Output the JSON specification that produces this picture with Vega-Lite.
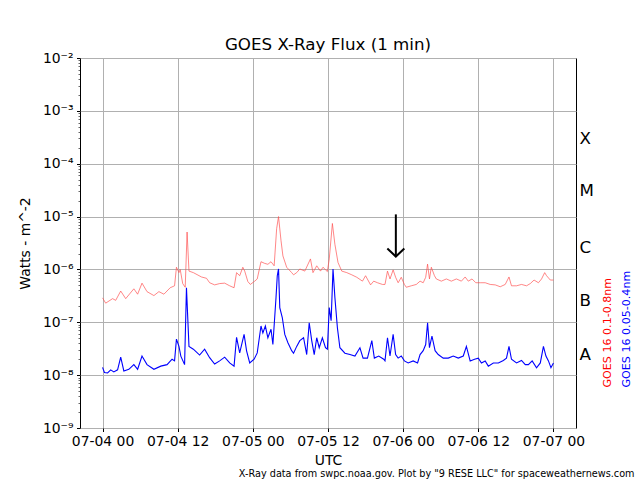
{
  "$schema": "https://vega.github.io/schema/vega-lite/v6.json",
  "autosize": {"type": "none"},
  "padding": {"left": 80, "top": 58, "right": 64, "bottom": 52},
  "width": 496,
  "height": 370,
  "background": "white",
  "config": {
    "font": "DejaVu Sans",
    "view": {"stroke": "black", "strokeWidth": 1},
    "axis": {"labelFont": "DejaVu Sans", "titleFont": "DejaVu Sans", "labelOverlap": false, "labelFlush": false}
  },
  "title": {
    "text": "GOES X-Ray Flux (1 min)",
    "fontSize": 16.7,
    "fontWeight": "normal",
    "color": "black",
    "anchor": "middle",
    "baseline": "alphabetic",
    "offset": 9,
    "dy": 25
  },
  "datasets": {
    "long": [
      {"t": "2024-07-04T00:00:00Z", "v": 2.9e-7},
      {"t": "2024-07-04T00:30:00Z", "v": 2.3e-7},
      {"t": "2024-07-04T01:36:00Z", "v": 2.8e-7},
      {"t": "2024-07-04T02:06:00Z", "v": 2.6e-7},
      {"t": "2024-07-04T02:54:00Z", "v": 3.9e-7},
      {"t": "2024-07-04T03:42:00Z", "v": 2.8e-7},
      {"t": "2024-07-04T05:00:00Z", "v": 4.3e-7},
      {"t": "2024-07-04T05:36:00Z", "v": 3.4e-7},
      {"t": "2024-07-04T06:18:00Z", "v": 5.5e-7},
      {"t": "2024-07-04T07:06:00Z", "v": 3.8e-7},
      {"t": "2024-07-04T08:12:00Z", "v": 3.2e-7},
      {"t": "2024-07-04T09:00:00Z", "v": 3.8e-7},
      {"t": "2024-07-04T09:48:00Z", "v": 3.4e-7},
      {"t": "2024-07-04T10:48:00Z", "v": 4.5e-7},
      {"t": "2024-07-04T11:30:00Z", "v": 4.9e-7},
      {"t": "2024-07-04T11:48:00Z", "v": 1.1e-6},
      {"t": "2024-07-04T12:12:00Z", "v": 8.7e-7},
      {"t": "2024-07-04T12:24:00Z", "v": 1.0e-6},
      {"t": "2024-07-04T12:48:00Z", "v": 5.4e-7},
      {"t": "2024-07-04T13:12:00Z", "v": 4.6e-7},
      {"t": "2024-07-04T13:30:00Z", "v": 5.1e-6},
      {"t": "2024-07-04T13:48:00Z", "v": 9.3e-7},
      {"t": "2024-07-04T14:30:00Z", "v": 8.7e-7},
      {"t": "2024-07-04T15:48:00Z", "v": 7.2e-7},
      {"t": "2024-07-04T16:36:00Z", "v": 6.8e-7},
      {"t": "2024-07-04T17:06:00Z", "v": 5.6e-7},
      {"t": "2024-07-04T17:54:00Z", "v": 5.1e-7},
      {"t": "2024-07-04T18:42:00Z", "v": 5.4e-7},
      {"t": "2024-07-04T19:30:00Z", "v": 5.5e-7},
      {"t": "2024-07-04T20:18:00Z", "v": 4.9e-7},
      {"t": "2024-07-04T21:00:00Z", "v": 4.5e-7},
      {"t": "2024-07-04T21:24:00Z", "v": 8.7e-7},
      {"t": "2024-07-04T21:54:00Z", "v": 7.6e-7},
      {"t": "2024-07-04T22:24:00Z", "v": 1.1e-6},
      {"t": "2024-07-04T22:42:00Z", "v": 9.3e-7},
      {"t": "2024-07-04T23:12:00Z", "v": 5.9e-7},
      {"t": "2024-07-04T23:36:00Z", "v": 5.2e-7},
      {"t": "2024-07-05T00:18:00Z", "v": 6.0e-7},
      {"t": "2024-07-05T00:42:00Z", "v": 6.6e-7},
      {"t": "2024-07-05T01:18:00Z", "v": 1.4e-6},
      {"t": "2024-07-05T01:54:00Z", "v": 1.3e-6},
      {"t": "2024-07-05T02:24:00Z", "v": 1.25e-6},
      {"t": "2024-07-05T02:54:00Z", "v": 1.4e-6},
      {"t": "2024-07-05T03:24:00Z", "v": 1.17e-6},
      {"t": "2024-07-05T03:48:00Z", "v": 5.9e-6},
      {"t": "2024-07-05T04:06:00Z", "v": 1.0e-5},
      {"t": "2024-07-05T04:30:00Z", "v": 3.5e-6},
      {"t": "2024-07-05T04:48:00Z", "v": 1.8e-6},
      {"t": "2024-07-05T05:24:00Z", "v": 1.1e-6},
      {"t": "2024-07-05T06:12:00Z", "v": 8.7e-7},
      {"t": "2024-07-05T06:30:00Z", "v": 7.9e-7},
      {"t": "2024-07-05T07:00:00Z", "v": 8.7e-7},
      {"t": "2024-07-05T07:30:00Z", "v": 1.02e-6},
      {"t": "2024-07-05T08:18:00Z", "v": 9.3e-7},
      {"t": "2024-07-05T09:12:00Z", "v": 1.58e-6},
      {"t": "2024-07-05T09:36:00Z", "v": 8.7e-7},
      {"t": "2024-07-05T10:12:00Z", "v": 1.17e-6},
      {"t": "2024-07-05T10:48:00Z", "v": 9.3e-7},
      {"t": "2024-07-05T11:12:00Z", "v": 1.1e-6},
      {"t": "2024-07-05T11:54:00Z", "v": 9.1e-7},
      {"t": "2024-07-05T12:12:00Z", "v": 1.58e-6},
      {"t": "2024-07-05T12:42:00Z", "v": 7.4e-6},
      {"t": "2024-07-05T13:06:00Z", "v": 3.0e-6},
      {"t": "2024-07-05T13:36:00Z", "v": 1.35e-6},
      {"t": "2024-07-05T14:12:00Z", "v": 9.3e-7},
      {"t": "2024-07-05T15:00:00Z", "v": 8.7e-7},
      {"t": "2024-07-05T15:48:00Z", "v": 7.9e-7},
      {"t": "2024-07-05T16:36:00Z", "v": 7.1e-7},
      {"t": "2024-07-05T17:30:00Z", "v": 6.0e-7},
      {"t": "2024-07-05T18:00:00Z", "v": 7.6e-7},
      {"t": "2024-07-05T18:48:00Z", "v": 5.1e-7},
      {"t": "2024-07-05T19:18:00Z", "v": 6.0e-7},
      {"t": "2024-07-05T19:54:00Z", "v": 5.6e-7},
      {"t": "2024-07-05T20:42:00Z", "v": 5.2e-7},
      {"t": "2024-07-05T21:06:00Z", "v": 5.2e-7},
      {"t": "2024-07-05T21:30:00Z", "v": 9.3e-7},
      {"t": "2024-07-05T21:54:00Z", "v": 6.6e-7},
      {"t": "2024-07-05T22:24:00Z", "v": 9.8e-7},
      {"t": "2024-07-05T22:48:00Z", "v": 7.1e-7},
      {"t": "2024-07-05T23:12:00Z", "v": 5.6e-7},
      {"t": "2024-07-05T23:42:00Z", "v": 7.1e-7},
      {"t": "2024-07-06T00:12:00Z", "v": 5.2e-7},
      {"t": "2024-07-06T00:30:00Z", "v": 4.6e-7},
      {"t": "2024-07-06T01:18:00Z", "v": 4.9e-7},
      {"t": "2024-07-06T02:06:00Z", "v": 5.2e-7},
      {"t": "2024-07-06T02:42:00Z", "v": 6.0e-7},
      {"t": "2024-07-06T03:12:00Z", "v": 5.6e-7},
      {"t": "2024-07-06T03:36:00Z", "v": 7.1e-7},
      {"t": "2024-07-06T03:54:00Z", "v": 1.26e-6},
      {"t": "2024-07-06T04:12:00Z", "v": 6.6e-7},
      {"t": "2024-07-06T04:30:00Z", "v": 1.1e-6},
      {"t": "2024-07-06T05:00:00Z", "v": 7.6e-7},
      {"t": "2024-07-06T05:18:00Z", "v": 6.6e-7},
      {"t": "2024-07-06T06:06:00Z", "v": 6.0e-7},
      {"t": "2024-07-06T06:54:00Z", "v": 6.6e-7},
      {"t": "2024-07-06T07:42:00Z", "v": 6.0e-7},
      {"t": "2024-07-06T08:30:00Z", "v": 6.6e-7},
      {"t": "2024-07-06T09:18:00Z", "v": 6.0e-7},
      {"t": "2024-07-06T09:54:00Z", "v": 7.2e-7},
      {"t": "2024-07-06T10:24:00Z", "v": 6.0e-7},
      {"t": "2024-07-06T11:00:00Z", "v": 6.6e-7},
      {"t": "2024-07-06T11:36:00Z", "v": 5.6e-7},
      {"t": "2024-07-06T12:18:00Z", "v": 5.6e-7},
      {"t": "2024-07-06T13:06:00Z", "v": 5.6e-7},
      {"t": "2024-07-06T13:54:00Z", "v": 5.2e-7},
      {"t": "2024-07-06T14:42:00Z", "v": 5.1e-7},
      {"t": "2024-07-06T15:30:00Z", "v": 4.7e-7},
      {"t": "2024-07-06T16:18:00Z", "v": 5.2e-7},
      {"t": "2024-07-06T16:54:00Z", "v": 7.2e-7},
      {"t": "2024-07-06T17:18:00Z", "v": 4.9e-7},
      {"t": "2024-07-06T18:06:00Z", "v": 4.9e-7},
      {"t": "2024-07-06T18:54:00Z", "v": 5.2e-7},
      {"t": "2024-07-06T19:42:00Z", "v": 4.9e-7},
      {"t": "2024-07-06T20:18:00Z", "v": 5.4e-7},
      {"t": "2024-07-06T20:54:00Z", "v": 6.3e-7},
      {"t": "2024-07-06T21:36:00Z", "v": 5.6e-7},
      {"t": "2024-07-06T22:06:00Z", "v": 6.6e-7},
      {"t": "2024-07-06T22:36:00Z", "v": 8.7e-7},
      {"t": "2024-07-06T22:54:00Z", "v": 7.6e-7},
      {"t": "2024-07-06T23:30:00Z", "v": 6.3e-7},
      {"t": "2024-07-07T00:00:00Z", "v": 6.3e-7}
    ],
    "short": [
      {"t": "2024-07-04T00:00:00Z", "v": 1.4e-8},
      {"t": "2024-07-04T00:18:00Z", "v": 1.12e-8},
      {"t": "2024-07-04T00:48:00Z", "v": 1.1e-8},
      {"t": "2024-07-04T01:18:00Z", "v": 1.26e-8},
      {"t": "2024-07-04T01:48:00Z", "v": 1.15e-8},
      {"t": "2024-07-04T02:24:00Z", "v": 1.26e-8},
      {"t": "2024-07-04T02:54:00Z", "v": 2.2e-8},
      {"t": "2024-07-04T03:24:00Z", "v": 1.2e-8},
      {"t": "2024-07-04T04:12:00Z", "v": 1.29e-8},
      {"t": "2024-07-04T05:00:00Z", "v": 1.58e-8},
      {"t": "2024-07-04T05:36:00Z", "v": 1.29e-8},
      {"t": "2024-07-04T06:18:00Z", "v": 2.3e-8},
      {"t": "2024-07-04T07:06:00Z", "v": 1.58e-8},
      {"t": "2024-07-04T08:12:00Z", "v": 1.29e-8},
      {"t": "2024-07-04T09:18:00Z", "v": 1.48e-8},
      {"t": "2024-07-04T10:18:00Z", "v": 1.58e-8},
      {"t": "2024-07-04T11:06:00Z", "v": 2.0e-8},
      {"t": "2024-07-04T11:30:00Z", "v": 1.86e-8},
      {"t": "2024-07-04T11:48:00Z", "v": 4.8e-8},
      {"t": "2024-07-04T12:12:00Z", "v": 3.5e-8},
      {"t": "2024-07-04T12:30:00Z", "v": 2.29e-8},
      {"t": "2024-07-04T13:06:00Z", "v": 1.58e-8},
      {"t": "2024-07-04T13:24:00Z", "v": 4.5e-7},
      {"t": "2024-07-04T13:48:00Z", "v": 3.5e-8},
      {"t": "2024-07-04T14:30:00Z", "v": 3.1e-8},
      {"t": "2024-07-04T15:30:00Z", "v": 2.4e-8},
      {"t": "2024-07-04T16:18:00Z", "v": 3.1e-8},
      {"t": "2024-07-04T17:06:00Z", "v": 2.14e-8},
      {"t": "2024-07-04T17:54:00Z", "v": 1.62e-8},
      {"t": "2024-07-04T18:42:00Z", "v": 1.86e-8},
      {"t": "2024-07-04T19:30:00Z", "v": 2.19e-8},
      {"t": "2024-07-04T20:18:00Z", "v": 1.7e-8},
      {"t": "2024-07-04T21:00:00Z", "v": 1.48e-8},
      {"t": "2024-07-04T21:24:00Z", "v": 5.2e-8},
      {"t": "2024-07-04T21:54:00Z", "v": 2.63e-8},
      {"t": "2024-07-04T22:36:00Z", "v": 5.9e-8},
      {"t": "2024-07-04T23:00:00Z", "v": 2.88e-8},
      {"t": "2024-07-04T23:30:00Z", "v": 1.7e-8},
      {"t": "2024-07-05T00:12:00Z", "v": 2.0e-8},
      {"t": "2024-07-05T00:42:00Z", "v": 2.63e-8},
      {"t": "2024-07-05T01:18:00Z", "v": 8.5e-8},
      {"t": "2024-07-05T01:36:00Z", "v": 6.3e-8},
      {"t": "2024-07-05T02:00:00Z", "v": 8.5e-8},
      {"t": "2024-07-05T02:24:00Z", "v": 5.1e-8},
      {"t": "2024-07-05T02:54:00Z", "v": 7.4e-8},
      {"t": "2024-07-05T03:12:00Z", "v": 3.8e-8},
      {"t": "2024-07-05T03:42:00Z", "v": 2.95e-7},
      {"t": "2024-07-05T03:54:00Z", "v": 7.6e-7},
      {"t": "2024-07-05T04:06:00Z", "v": 1.02e-6},
      {"t": "2024-07-05T04:18:00Z", "v": 1.9e-7},
      {"t": "2024-07-05T04:42:00Z", "v": 1.23e-7},
      {"t": "2024-07-05T05:06:00Z", "v": 5.9e-8},
      {"t": "2024-07-05T05:36:00Z", "v": 4.1e-8},
      {"t": "2024-07-05T06:12:00Z", "v": 2.9e-8},
      {"t": "2024-07-05T06:30:00Z", "v": 2.6e-8},
      {"t": "2024-07-05T07:00:00Z", "v": 3.5e-8},
      {"t": "2024-07-05T07:30:00Z", "v": 4.5e-8},
      {"t": "2024-07-05T08:06:00Z", "v": 5.1e-8},
      {"t": "2024-07-05T08:36:00Z", "v": 2.45e-8},
      {"t": "2024-07-05T09:00:00Z", "v": 9.8e-8},
      {"t": "2024-07-05T09:24:00Z", "v": 4.5e-8},
      {"t": "2024-07-05T09:48:00Z", "v": 2.45e-8},
      {"t": "2024-07-05T10:12:00Z", "v": 5.1e-8},
      {"t": "2024-07-05T10:36:00Z", "v": 3.3e-8},
      {"t": "2024-07-05T11:06:00Z", "v": 5.1e-8},
      {"t": "2024-07-05T11:36:00Z", "v": 3.3e-8},
      {"t": "2024-07-05T11:54:00Z", "v": 3.1e-8},
      {"t": "2024-07-05T12:12:00Z", "v": 1.9e-7},
      {"t": "2024-07-05T12:30:00Z", "v": 1.07e-7},
      {"t": "2024-07-05T12:48:00Z", "v": 1.02e-6},
      {"t": "2024-07-05T13:06:00Z", "v": 2.95e-7},
      {"t": "2024-07-05T13:30:00Z", "v": 7.9e-8},
      {"t": "2024-07-05T13:54:00Z", "v": 3.3e-8},
      {"t": "2024-07-05T14:42:00Z", "v": 2.6e-8},
      {"t": "2024-07-05T15:30:00Z", "v": 2.45e-8},
      {"t": "2024-07-05T16:18:00Z", "v": 2.3e-8},
      {"t": "2024-07-05T17:06:00Z", "v": 3.3e-8},
      {"t": "2024-07-05T17:36:00Z", "v": 2.1e-8},
      {"t": "2024-07-05T18:18:00Z", "v": 2.1e-8},
      {"t": "2024-07-05T19:00:00Z", "v": 4.5e-8},
      {"t": "2024-07-05T19:24:00Z", "v": 2.1e-8},
      {"t": "2024-07-05T20:06:00Z", "v": 2.3e-8},
      {"t": "2024-07-05T20:54:00Z", "v": 2.0e-8},
      {"t": "2024-07-05T21:06:00Z", "v": 1.86e-8},
      {"t": "2024-07-05T21:30:00Z", "v": 5.1e-8},
      {"t": "2024-07-05T21:54:00Z", "v": 2.3e-8},
      {"t": "2024-07-05T22:24:00Z", "v": 5.9e-8},
      {"t": "2024-07-05T22:48:00Z", "v": 2.45e-8},
      {"t": "2024-07-05T23:12:00Z", "v": 2.1e-8},
      {"t": "2024-07-05T23:42:00Z", "v": 2.3e-8},
      {"t": "2024-07-06T00:12:00Z", "v": 1.86e-8},
      {"t": "2024-07-06T00:48:00Z", "v": 1.7e-8},
      {"t": "2024-07-06T01:36:00Z", "v": 1.86e-8},
      {"t": "2024-07-06T02:18:00Z", "v": 1.7e-8},
      {"t": "2024-07-06T02:42:00Z", "v": 2.45e-8},
      {"t": "2024-07-06T03:12:00Z", "v": 2.9e-8},
      {"t": "2024-07-06T03:36:00Z", "v": 3.8e-8},
      {"t": "2024-07-06T03:54:00Z", "v": 9.8e-8},
      {"t": "2024-07-06T04:12:00Z", "v": 3.3e-8},
      {"t": "2024-07-06T04:36:00Z", "v": 5.5e-8},
      {"t": "2024-07-06T05:06:00Z", "v": 2.9e-8},
      {"t": "2024-07-06T05:36:00Z", "v": 2.45e-8},
      {"t": "2024-07-06T06:24:00Z", "v": 2.1e-8},
      {"t": "2024-07-06T07:12:00Z", "v": 2.1e-8},
      {"t": "2024-07-06T08:00:00Z", "v": 2.3e-8},
      {"t": "2024-07-06T08:48:00Z", "v": 2.1e-8},
      {"t": "2024-07-06T09:36:00Z", "v": 2.3e-8},
      {"t": "2024-07-06T10:06:00Z", "v": 3.5e-8},
      {"t": "2024-07-06T10:42:00Z", "v": 1.86e-8},
      {"t": "2024-07-06T11:24:00Z", "v": 2.0e-8},
      {"t": "2024-07-06T12:00:00Z", "v": 2.1e-8},
      {"t": "2024-07-06T12:30:00Z", "v": 1.7e-8},
      {"t": "2024-07-06T13:06:00Z", "v": 1.86e-8},
      {"t": "2024-07-06T13:36:00Z", "v": 1.48e-8},
      {"t": "2024-07-06T14:24:00Z", "v": 1.7e-8},
      {"t": "2024-07-06T15:12:00Z", "v": 1.7e-8},
      {"t": "2024-07-06T16:00:00Z", "v": 1.9e-8},
      {"t": "2024-07-06T16:30:00Z", "v": 2.1e-8},
      {"t": "2024-07-06T16:54:00Z", "v": 3.5e-8},
      {"t": "2024-07-06T17:18:00Z", "v": 2.0e-8},
      {"t": "2024-07-06T18:06:00Z", "v": 1.7e-8},
      {"t": "2024-07-06T18:54:00Z", "v": 1.9e-8},
      {"t": "2024-07-06T19:30:00Z", "v": 1.58e-8},
      {"t": "2024-07-06T20:00:00Z", "v": 1.58e-8},
      {"t": "2024-07-06T20:36:00Z", "v": 1.86e-8},
      {"t": "2024-07-06T21:18:00Z", "v": 1.38e-8},
      {"t": "2024-07-06T21:54:00Z", "v": 1.7e-8},
      {"t": "2024-07-06T22:24:00Z", "v": 3.5e-8},
      {"t": "2024-07-06T22:48:00Z", "v": 2.3e-8},
      {"t": "2024-07-06T23:12:00Z", "v": 1.86e-8},
      {"t": "2024-07-06T23:36:00Z", "v": 1.38e-8},
      {"t": "2024-07-07T00:00:00Z", "v": 1.7e-8}
    ],
    "arrow": [
      {"t": "2024-07-05T22:50:00Z", "top": 1.1e-5, "tip": 1.75e-6}
    ]
  },
  "layer": [
    {
      "data": {"name": "long"},
      "mark": {"type": "line", "color": "#ff4d4d", "strokeWidth": 0.8, "opacity": 0.85},
      "encoding": {
        "x": {
          "field": "t",
          "type": "temporal",
          "scale": {
            "type": "utc",
            "domain": [
              {"year": 2024, "month": 7, "date": 3, "hours": 20, "minutes": 24, "utc": true},
              {"year": 2024, "month": 7, "date": 7, "hours": 3, "minutes": 36, "utc": true}
            ]
          },
          "axis": {
            "orient": "bottom",
            "values": [
              {"year": 2024, "month": 7, "date": 4, "hours": 0, "utc": true},
              {"year": 2024, "month": 7, "date": 4, "hours": 12, "utc": true},
              {"year": 2024, "month": 7, "date": 5, "hours": 0, "utc": true},
              {"year": 2024, "month": 7, "date": 5, "hours": 12, "utc": true},
              {"year": 2024, "month": 7, "date": 6, "hours": 0, "utc": true},
              {"year": 2024, "month": 7, "date": 6, "hours": 12, "utc": true},
              {"year": 2024, "month": 7, "date": 7, "hours": 0, "utc": true}
            ],
            "labelExpr": "utcFormat(datum.value, '%m-%d %H')",
            "title": "UTC",
            "grid": true,
            "gridColor": "#b0b0b0",
            "gridWidth": 1,
            "domain": false,
            "tickColor": "black",
            "tickSize": 3.5,
            "tickWidth": 1,
            "labelFontSize": 13.9,
            "labelColor": "black",
            "labelPadding": 3,
            "titleFontSize": 13.9,
            "titleFontWeight": "normal",
            "titleColor": "black",
            "titleY": 36,
            "titleBaseline": "alphabetic"
          }
        },
        "y": {
          "field": "v",
          "type": "quantitative",
          "scale": {"type": "log", "domain": [1e-9, 1e-2], "nice": false},
          "axis": {
            "orient": "left",
            "values": [1e-9, 1e-8, 1e-7, 1e-6, 1e-5, 1e-4, 1e-3, 1e-2],
            "labelExpr": "'10⁻' + ['⁰','¹','²','³','⁴','⁵','⁶','⁷','⁸','⁹'][round(-log(datum.value)/LN10)]",
            "title": "Watts - m^-2",
            "grid": true,
            "gridColor": "#b0b0b0",
            "gridWidth": 1,
            "domain": false,
            "tickColor": "black",
            "tickSize": 3.5,
            "tickWidth": 1,
            "labelFontSize": 13.9,
            "labelColor": "black",
            "labelPadding": 3.5,
            "titleFontSize": 13.9,
            "titleFontWeight": "normal",
            "titleColor": "black",
            "titleAngle": 270,
            "titleX": -51,
            "titleY": 185,
            "titleAlign": "center",
            "titleBaseline": "alphabetic"
          }
        }
      }
    },
    {
      "data": {"name": "short"},
      "mark": {"type": "line", "color": "#0000ff", "strokeWidth": 1.1},
      "encoding": {
        "x": {
          "field": "t",
          "type": "temporal",
          "axis": {
            "orient": "bottom",
            "labels": false,
            "ticks": false,
            "domain": false,
            "grid": false,
            "title": "X-Ray data from swpc.noaa.gov. Plot by \"9 RESE LLC\" for spaceweathernews.com",
            "titleFontSize": 9.7,
            "titleFontWeight": "normal",
            "titleColor": "black",
            "titleX": 554,
            "titleY": 48,
            "titleAlign": "right",
            "titleAnchor": "end",
            "titleBaseline": "alphabetic"
          }
        },
        "y": {
          "field": "v",
          "type": "quantitative",
          "axis": {
            "orient": "left",
            "values": [2e-9, 3e-9, 4e-9, 5e-9, 6e-9, 7e-9, 8e-9, 9e-9,
                       2e-8, 3e-8, 4e-8, 5e-8, 6e-8, 7e-8, 8e-8, 9e-8,
                       2e-7, 3e-7, 4e-7, 5e-7, 6e-7, 7e-7, 8e-7, 9e-7,
                       2e-6, 3e-6, 4e-6, 5e-6, 6e-6, 7e-6, 8e-6, 9e-6,
                       2e-5, 3e-5, 4e-5, 5e-5, 6e-5, 7e-5, 8e-5, 9e-5,
                       2e-4, 3e-4, 4e-4, 5e-4, 6e-4, 7e-4, 8e-4, 9e-4,
                       2e-3, 3e-3, 4e-3, 5e-3, 6e-3, 7e-3, 8e-3, 9e-3],
            "labels": false,
            "grid": false,
            "domain": false,
            "ticks": true,
            "tickSize": 2,
            "tickWidth": 0.6,
            "tickColor": "black",
            "title": null
          }
        }
      }
    },
    {
      "data": {"name": "arrow"},
      "mark": {"type": "rule", "color": "black", "strokeWidth": 2},
      "encoding": {
        "x": {"field": "t", "type": "temporal", "axis": null},
        "y": {
          "field": "top",
          "type": "quantitative",
          "axis": {
            "orient": "right",
            "values": [3.0e-4, 3.1e-5, 2.6e-6, 2.6e-7, 2.5e-8],
            "labelExpr": "datum.value > 1e-4 ? 'X' : datum.value > 1e-5 ? 'M' : datum.value > 1e-6 ? 'C' : datum.value > 1e-7 ? 'B' : 'A'",
            "labelFontSize": 16.7,
            "labelColor": "black",
            "labelBaseline": "middle",
            "ticks": false,
            "tickSize": 0,
            "labelPadding": 3,
            "grid": false,
            "domain": false,
            "title": "GOES 16 0.1-0.8nm",
            "titleColor": "red",
            "titleFontSize": 11.1,
            "titleFontWeight": "normal",
            "titleAngle": 270,
            "titleX": 34,
            "titleY": 329,
            "titleAlign": "left",
            "titleBaseline": "alphabetic"
          }
        },
        "y2": {"field": "tip"}
      }
    },
    {
      "data": {"name": "arrow"},
      "mark": {
        "type": "point",
        "shape": "M-1,-0.95L0,0L1,-0.95",
        "size": 289,
        "filled": false,
        "stroke": "black",
        "strokeWidth": 2,
        "opacity": 1
      },
      "encoding": {
        "x": {"field": "t", "type": "temporal", "axis": null},
        "y": {
          "field": "tip",
          "type": "quantitative",
          "axis": {
            "orient": "right",
            "labels": false,
            "ticks": false,
            "domain": false,
            "grid": false,
            "title": "GOES 16 0.05-0.4nm",
            "titleColor": "blue",
            "titleFontSize": 11.1,
            "titleFontWeight": "normal",
            "titleAngle": 270,
            "titleX": 53,
            "titleY": 329,
            "titleAlign": "left",
            "titleBaseline": "alphabetic"
          }
        }
      }
    }
  ],
  "resolve": {"axis": {"x": "independent", "y": "independent"}}
}
